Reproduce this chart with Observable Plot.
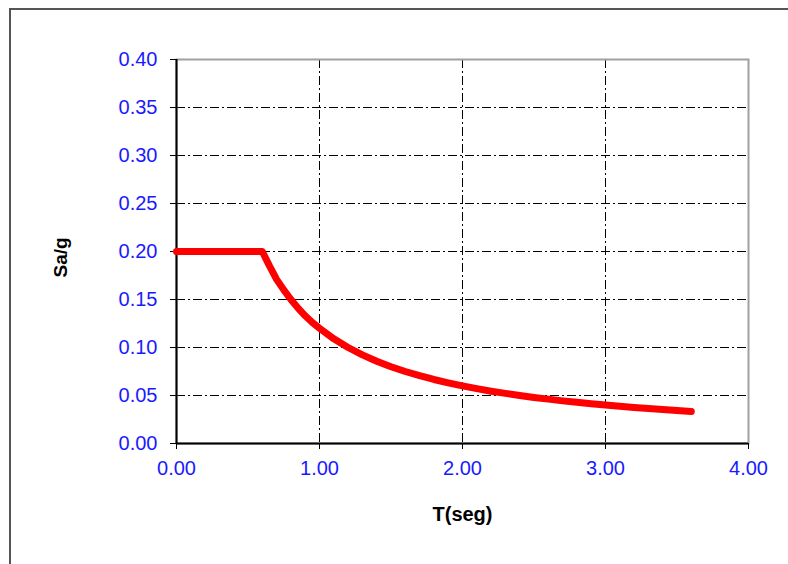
<!DOCTYPE html>
<html>
<head>
<meta charset="utf-8">
<script src="https://cdn.jsdelivr.net/npm/d3@7"></script>
<script src="https://cdn.jsdelivr.net/npm/@observablehq/plot@0.6"></script>
<style>
  html, body { margin: 0; padding: 0; background: #fff; overflow: hidden; }
  #wrap { position: relative; width: 788px; height: 564px; overflow: hidden; }
  #border { position: absolute; left: 9px; top: 8px; right: -10px; bottom: -10px;
            border-left: 2px solid #555; border-top: 2px solid #555; pointer-events: none; }
</style>
</head>
<body>
<div id="wrap"><div id="border"></div></div>
<script>
// Period T (s) and spectral acceleration Sa/g
const periodT = [0, 0.1, 0.2, 0.3, 0.4, 0.5, 0.6, 0.65, 0.7, 0.75, 0.8, 0.85, 0.9, 0.95, 1.0,
  1.1, 1.2, 1.3, 1.4, 1.5, 1.6, 1.7, 1.8, 1.9, 2.0, 2.1, 2.2, 2.3, 2.4, 2.5, 2.6, 2.7, 2.8,
  2.9, 3.0, 3.1, 3.2, 3.3, 3.4, 3.5, 3.6];
const saG = [0.200, 0.200, 0.200, 0.200, 0.200, 0.200, 0.200, 0.185, 0.171, 0.160, 0.150, 0.141,
  0.133, 0.126, 0.120, 0.109, 0.100, 0.0923, 0.0857, 0.080, 0.075, 0.0706, 0.0667, 0.0632, 0.060,
  0.0571, 0.0545, 0.0522, 0.050, 0.048, 0.0462, 0.0444, 0.0429, 0.0414, 0.040, 0.0387, 0.0375,
  0.0364, 0.0353, 0.0343, 0.0333];
const xTicks = [0, 1, 2, 3, 4];
const yTicks = [0, 0.05, 0.10, 0.15, 0.20, 0.25, 0.30, 0.35, 0.40];
const xGrid = [1, 2, 3];
const yGrid = [0.05, 0.10, 0.15, 0.20, 0.25, 0.30, 0.35];
const xTitle = "T(seg)";
const yTitle = "Sa/g";

const data = periodT.map((t, i) => ({T: t, Sa: saG[i]}));
const font = "'Liberation Sans', Arial, sans-serif";
const blue = "#1a1aff";
const dash = "9,3,2,3";

const chart = Plot.plot({
  width: 788,
  height: 564,
  marginLeft: 176,
  marginRight: 40,
  marginTop: 59,
  marginBottom: 121,
  style: {fontFamily: font, background: "transparent"},
  x: {domain: [0, 4]},
  y: {domain: [0, 0.4]},
  marks: [
    Plot.ruleX(xGrid, {stroke: "black", strokeWidth: 1, strokeDasharray: dash}),
    Plot.ruleY(yGrid, {x1: 0, x2: 4, stroke: "black", strokeWidth: 1, strokeDasharray: dash}),
    Plot.frame({stroke: "#a0a0a0", strokeWidth: 2}),
    Plot.ruleX([0], {stroke: "black", strokeWidth: 2}),
    Plot.ruleY([0], {stroke: "black", strokeWidth: 2}),
    Plot.axisY({ticks: yTicks, tickFormat: d3.format(".2f"), tickSize: 6, tickPadding: 13,
      fontSize: 20, fill: blue, stroke: "black", label: null}),
    Plot.axisX({ticks: xTicks, tickFormat: d3.format(".2f"), tickSize: 6, tickPadding: 11,
      fontSize: 20, fill: blue, stroke: "black", label: null}),
    Plot.line(data, {x: "T", y: "Sa", stroke: "#ff0000", strokeWidth: 7,
      strokeLinecap: "round", strokeLinejoin: "round"}),
    Plot.text([yTitle], {frameAnchor: "left", dx: -116, dy: 26, rotate: -90,
      fontSize: 19, fontWeight: "bold", fill: "black"}),
    Plot.text([xTitle], {frameAnchor: "bottom", dy: 77,
      fontSize: 20, fontWeight: "bold", fill: "black"})
  ]
});
document.getElementById("wrap").prepend(chart);
</script>
</body>
</html>
